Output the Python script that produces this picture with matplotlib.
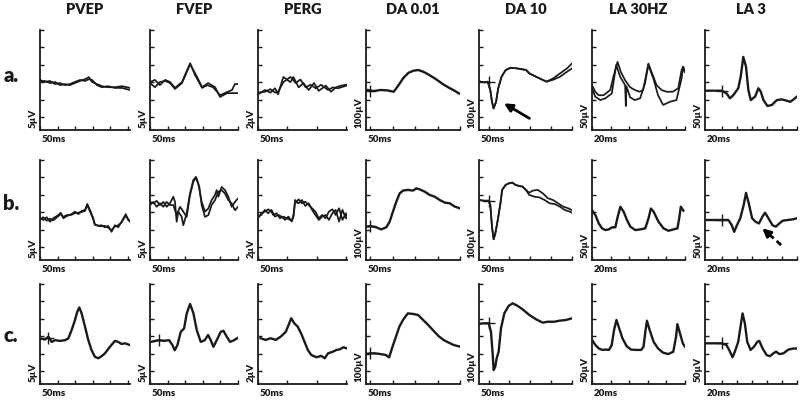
import matplotlib
matplotlib.use('Agg')
import matplotlib.pyplot as plt

plt.rcParams['font.family'] = ['Lato', 'DejaVu Sans']

# ---------------- chart description ----------------
columns = ['PVEP', 'FVEP', 'PERG', 'DA 0.01', 'DA 10', 'LA 30HZ', 'LA 3']
rows = ['a.', 'b.', 'c.']
y_units = [5, 5, 2, 100, 100, 50, 50]                      # µV per division
y_labels = ['5µV', '5µV', '2µV', '100µV', '100µV', '50µV', '50µV']
x_labels = ['50ms', '50ms', '50ms', '50ms', '50ms', '20ms', '20ms']
x_limits = [(0, 256), (0, 250), (0, 151), (-10, 200), (-23, 200), (0, 100), (-22, 100)]
x_ticks = [[0, 50, 100, 150, 200, 250], [0, 50, 100, 150, 200, 250], [0, 50, 100, 150],
           [0, 50, 100, 150, 200], [0, 50, 100, 150, 200],
           [0, 20, 40, 60, 80, 100], [0, 20, 40, 60, 80, 100]]

# ---------------- data: time (ms), amplitude (µV) ----------------
# row a
a_pvep_t = [0, 14, 28, 43, 57, 71, 85, 99, 114, 128, 139, 148, 162, 176, 193, 213, 233, 256]
a_pvep_v1 = [13.8, 14.1, 13.5, 13.8, 12.9, 13.2, 12.9, 13.5, 14.1, 14.6, 15.2, 13.8, 13.2, 12.6, 12.3, 12.3, 12.6, 12.1]
a_pvep_v2 = [14.4, 13.8, 14.1, 13.2, 13.5, 12.9, 13.2, 13.8, 14.4, 14.1, 14.6, 14.4, 12.9, 12.3, 12.6, 12.1, 12.1, 11.5]

a_fvep_t1 = [0, 14, 28, 43, 57, 71, 91, 114, 128, 148, 162, 179, 199, 219, 233, 241, 250]
a_fvep_v1 = [13.8, 14.4, 12.9, 14.4, 13.8, 12.1, 13.8, 19.2, 15.8, 12.1, 12.9, 12.3, 10.0, 10.9, 11.5, 13.2, 13.2]
a_fvep_t2 = [0, 14, 28, 43, 57, 71, 91, 114, 134, 148, 165, 185, 199, 219, 236, 250]
a_fvep_v2 = [13.5, 12.3, 13.8, 14.1, 13.5, 11.8, 13.5, 18.9, 15.2, 12.3, 13.5, 12.3, 9.5, 10.6, 10.6, 10.6]

a_perg_t1 = [0, 12, 21, 29, 34, 43, 55, 60, 69, 77, 86, 95, 103, 115, 124, 132, 141, 150]
a_perg_v1 = [4.1, 4.6, 4.3, 4.8, 4.1, 6.1, 5.5, 6.1, 4.9, 5.4, 4.6, 5.4, 4.5, 5.1, 4.4, 4.9, 5.1, 5.2]
a_perg_t2 = [0, 12, 21, 29, 34, 43, 55, 64, 72, 81, 89, 98, 107, 119, 127, 136, 150]
a_perg_v2 = [4.3, 4.4, 4.7, 4.3, 4.4, 5.5, 6.1, 5.4, 5.8, 4.9, 5.2, 4.8, 5.2, 4.6, 4.9, 4.8, 5.1]

a_da001_t = [-7, 7, 22, 37, 52, 63, 74, 85, 96, 107, 118, 129, 141, 152, 163, 174, 185, 198]
a_da001_v = [230, 224, 230, 228, 220, 259, 301, 329, 341, 345, 335, 320, 301, 282, 262, 245, 230, 210]

a_da10_t1 = [-20, -8, -2, 4, 8, 12, 18, 23, 31, 41, 53, 69, 90, 98, 114, 130, 139, 155, 171, 188, 200]
a_da10_v1 = [278, 274, 278, 230, 163, 124, 163, 239, 306, 345, 358, 354, 345, 325, 306, 288, 278, 297, 325, 354, 383]
a_da10_t2 = [-20, -8, -2, 4, 8, 12, 18, 23, 31, 41, 53, 69, 90, 98, 114, 130, 139, 155, 171, 188, 200]
a_da10_v2 = [278, 274, 278, 230, 163, 124, 163, 239, 306, 345, 358, 354, 345, 325, 306, 288, 278, 289, 306, 335, 354]

a_la30_t1 = [0, 3.5, 7, 12.5, 19.6, 23, 27.5, 31, 35.6, 41, 46, 51, 55, 60.6, 64, 69.4, 74.8, 80, 87, 92.7, 96.3, 98, 99.8]
a_la30_v1 = [129, 110, 100, 100, 115, 153, 196, 167, 143, 123, 115, 110, 115, 191, 167, 129, 115, 110, 110, 120, 172, 182, 167]
a_la30_t2 = [0, 3.5, 8.9, 14.3, 21.3, 26, 30.3, 35.6, 36.4, 37, 41, 46, 51.7, 57, 60.6, 66, 71, 76.5, 83.7, 90.8, 96.3, 98, 99.8]
a_la30_v2 = [120, 96, 86, 91, 105, 187, 153, 129, 69, 126, 94, 86, 91, 134, 187, 148, 100, 72, 81, 86, 148, 182, 167]

a_la3_t = [-22, 0, 6.7, 11.1, 15.5, 22.1, 25.3, 28.8, 32.4, 35.5, 38.7, 44.4, 48.8, 52, 55.5, 60.8, 66.7, 73.3, 80, 86.7, 91, 95.5, 100]
a_la3_v = [113, 113, 105, 91, 100, 120, 153, 210, 182, 115, 86, 96, 120, 110, 86, 69, 72, 86, 88, 84, 81, 88, 96]

# row b
b_pvep_t = [0, 9.4, 19, 28.4, 37.8, 52, 59, 66.3, 75.7, 90, 99.4, 109, 118.4, 128, 134.4, 142, 151.5, 156, 165.5,
            175, 184.6, 194, 203.5, 213, 222.4, 232, 244, 250.5, 255.6]
b_pvep_v1 = [12.0, 11.5, 12.3, 11.0, 12.0, 12.9, 13.6, 12.0, 12.6, 13.2, 13.9, 13.2, 14.1, 14.4, 16.1, 14.4, 12.0,
             10.3, 9.8, 10.0, 9.4, 9.8, 8.1, 10.0, 9.4, 11.0, 13.2, 11.5, 11.3]
b_pvep_v2 = [11.7, 12.3, 11.3, 11.9, 11.4, 12.6, 13.2, 12.4, 12.9, 13.0, 13.5, 13.6, 13.8, 14.1, 15.8, 14.0, 11.7,
             10.1, 9.9, 9.7, 9.8, 9.3, 8.6, 9.6, 10.0, 10.8, 12.8, 11.8, 11.0]

b_fvep_t1 = [0, 9.4, 19, 28.4, 37.8, 47.4, 56.8, 66.2, 71, 75.7, 80.4, 90, 94.6, 104.2, 113.6, 123, 130.6, 137.2,
             146.8, 156.2, 165.6, 175, 184.6, 189.4, 194.2, 203.6, 213, 222.4, 232, 241.4, 250]
b_fvep_v1 = [16.7, 16.3, 17.0, 15.8, 16.7, 15.3, 16.3, 18.2, 16.7, 11.0, 13.9, 12.4, 10.0, 13.4, 19.1, 23.0, 23.9,
             22.0, 16.7, 13.9, 14.8, 17.2, 18.7, 20.1, 18.2, 21.0, 20.1, 18.2, 15.3, 16.7, 17.7]
b_fvep_t2 = [0, 9.5, 18.9, 28.4, 37.9, 47.3, 56.8, 66.3, 75.7, 85.2, 94.7, 104.1, 113.6, 123.1, 130.7, 140.1, 146.8,
             156.2, 165.7, 175.1, 184.6, 194.1, 203.5, 213, 222.5, 231.9, 241.4, 250]
b_fvep_v2 = [15.8, 16.7, 15.3, 16.3, 15.3, 16.7, 15.8, 15.8, 12.9, 15.3, 13.9, 12.4, 18.6, 22.5, 23.7, 21.0, 15.8,
             12.4, 12.9, 15.8, 17.2, 19.6, 20.1, 19.1, 17.2, 16.3, 14.3, 15.3]

b_perg_t1 = [0, 5.7, 11.5, 17.2, 22.9, 25.8, 31.5, 37.3, 43, 48.7, 54.5, 57.3, 60.2, 63, 65.9, 68.8, 74.5, 80.2, 86,
             91.7, 97.4, 103.2, 108.9, 114.6, 120.3, 126.1, 131.8, 137.5, 143.3, 149, 151]
b_perg_v1 = [4.80, 5.37, 5.56, 5.83, 5.56, 5.18, 5.37, 4.80, 4.99, 4.80, 4.61, 4.53, 5.18, 6.90, 6.71, 6.98, 6.52,
             6.71, 6.33, 5.95, 5.56, 4.80, 5.18, 4.80, 5.56, 5.83, 5.18, 5.95, 4.61, 5.37, 4.99]
b_perg_t2 = [0, 5.7, 11.5, 17.2, 22.9, 28.7, 34.4, 40.1, 45.9, 51.6, 57.3, 60.2, 63, 68.8, 74.5, 80.2, 86, 91.7,
             97.4, 103.2, 108.9, 114.6, 120.3, 126.1, 131.8, 137.5, 143.3, 149, 151]
b_perg_v2 = [4.99, 5.18, 5.76, 5.37, 5.76, 4.99, 5.18, 4.99, 4.61, 4.99, 4.42, 4.99, 6.71, 6.52, 6.90, 6.22, 6.52,
             5.76, 5.18, 4.61, 4.99, 5.18, 4.61, 5.37, 5.76, 4.42, 5.76, 4.80, 4.80]

b_da001_t = [-9.5, 0.2, 12.9, 24.1, 35.3, 42.8, 50.2, 57.7, 65.2, 72.6, 83.8, 95.0, 102.5, 110, 121.2, 132.4, 143.6,
             154.8, 166, 177.2, 188.4, 199.6]
b_da001_v = [192, 195, 188, 176, 188, 220, 278, 335, 383, 399, 403, 399, 412, 406, 393, 374, 364, 345, 330, 326, 307, 297]

b_da10_t1 = [-22.8, -12.2, 0, 4.1, 8.1, 12.2, 16.2, 22, 28.4, 32.5, 40.6, 48.8, 56.9, 65, 73.2, 81.3, 89.4, 97.5,
             105.7, 117.9, 130.1, 142.3, 154.5, 166.7, 178.9, 191.1, 200]
b_da10_v1 = [345, 341, 341, 316, 192, 119, 153, 230, 326, 403, 431, 441, 445, 431, 426, 422, 403, 387, 399, 403, 383,
             355, 345, 326, 307, 297, 287]
b_da10_t2 = [-22.8, -12.2, 0, 4.1, 8.1, 12.2, 16.2, 22, 28.4, 32.5, 40.6, 48.8, 56.9, 65, 73.2, 81.3, 89.4, 97.5,
             109.7, 121.9, 134.1, 146.3, 158.5, 170.7, 182.9, 195.1, 200]
b_da10_v2 = [345, 341, 341, 316, 192, 119, 153, 230, 326, 403, 431, 441, 445, 431, 426, 422, 403, 374, 364, 360, 345,
             326, 322, 307, 287, 278, 272]

b_la30_t = [0.1, 3.7, 7.3, 10.8, 14.4, 18, 21.6, 25.1, 27.6, 30.5, 34, 37.6, 41.2, 46.5, 51.9, 57.3, 60.8, 63.3,
            66.2, 71.5, 76.9, 82.2, 87.6, 91.9, 94, 95.5, 98.3]
b_la30_v = [143, 129, 105, 91, 86, 88, 94, 94, 124, 153, 139, 115, 96, 86, 88, 91, 120, 148, 139, 110, 91, 84, 88,
            91, 124, 153, 142]

b_la3_t = [-19.4, -9, 0, 9, 13.5, 16.7, 20.3, 24.8, 29.3, 32.4, 36, 40.5, 45, 49.5, 54, 57.6, 62.1, 67.5, 72, 76.5,
           81, 87.8, 94.5, 100]
b_la3_v = [115, 115, 115, 115, 100, 81, 100, 120, 158, 193, 163, 120, 110, 105, 124, 136, 120, 100, 96, 105, 113,
           115, 117, 120]

# row c
c_pvep_t = [0, 14.2, 23.7, 33.2, 42.7, 56.9, 71.1, 80.5, 90, 99.5, 106.1, 111.8, 118.4, 127.9, 137.4, 146.8, 156.3,
            165.8, 175.2, 184.7, 198.9, 213.1, 222.6, 232.1, 241.5, 255.7]
c_pvep_v = [13.1, 12.8, 13.6, 12.1, 12.6, 12.4, 12.6, 13.1, 15.5, 18.4, 20.8, 22.0, 20.3, 16.5, 12.6, 9.7, 7.8, 7.4,
            8.0, 8.8, 10.7, 12.4, 12.1, 11.5, 11.7, 11.2]

c_fvep_t = [2.2, 16.4, 25.8, 40, 54.2, 63.7, 70.3, 77.9, 87.4, 96.9, 104.4, 113.9, 123.4, 132.8, 144.2, 155.6, 165,
            172.6, 180.2, 189.6, 201, 208.6, 218, 227.5, 238.9, 250]
c_fvep_v = [12.1, 12.4, 12.6, 12.4, 12.6, 11.2, 9.7, 11.2, 15.0, 16.0, 20.3, 23.0, 20.3, 15.5, 12.1, 12.6, 14.1, 12.6,
            10.7, 12.6, 15.0, 15.3, 13.6, 12.1, 12.6, 13.3]

c_perg_t = [4.3, 12.9, 21.5, 30.1, 38.7, 47.3, 51.9, 56.4, 61.6, 67.3, 73.1, 78.8, 84.5, 90.3, 98.9, 107.5, 113.2,
            118.9, 127.5, 133.2, 139, 144.7, 150.4]
c_perg_v = [5.26, 5.07, 5.26, 5.07, 5.45, 6.02, 6.79, 7.56, 6.98, 6.60, 5.83, 4.88, 3.92, 3.34, 3.08, 3.23, 2.96,
            3.53, 3.73, 3.92, 3.99, 4.22, 4.11]

c_da001_t = [-10, -0.1, 11.3, 22.7, 34.1, 41.7, 49.3, 56.9, 64.5, 73.6, 83.5, 94.9, 106.3, 117.7, 129.1, 140.5,
             151.9, 163.3, 174.7, 186.1, 199.8]
c_da001_v = [172, 176, 176, 172, 167, 153, 215, 272, 330, 372, 406, 403, 397, 368, 339, 307, 276, 253, 238, 224, 215]

c_da10_t = [-23, -14.3, 0.1, 5.7, 9.7, 12.1, 16.1, 19.3, 24.1, 29.7, 37.7, 48.1, 57.7, 69.7, 81.7, 97.7, 113.7,
            129.7, 141.7, 157.7, 169.7, 185.7, 200]
c_da10_v = [345, 349, 349, 301, 176, 80, 100, 148, 186, 320, 406, 449, 464, 449, 429, 397, 372, 353, 358, 358, 364,
            368, 378]

c_la30_t = [0.8, 3.7, 7.4, 11, 14.6, 18.3, 21.2, 23.7, 26.3, 29.2, 32.8, 37.2, 41.9, 47.4, 52.9, 55.4, 57.6, 59.1,
            62, 66.3, 71.1, 76.5, 82, 87.4, 90.4, 91.8, 94.7, 97.6, 100]
c_la30_v = [124, 112, 102, 98, 99, 98, 112, 155, 184, 160, 131, 109, 99, 98, 98, 107, 155, 182, 155, 121, 102, 90,
            86, 93, 136, 172, 145, 117, 107]

c_la3_t = [-21, -11.3, -0.2, 6.5, 10, 14.5, 17.6, 22, 25.1, 27.8, 30.9, 34, 38.5, 42.9, 47.3, 50, 54.4, 59.8, 64.2,
           68.6, 72.2, 76.6, 82, 88.6, 95.3, 100]
c_la3_v = [117, 117, 117, 112, 98, 77, 93, 121, 165, 203, 174, 121, 98, 107, 121, 124, 102, 83, 80, 88, 93, 86, 88,
           99, 102, 102]

# stimulus-onset markers (row, column, time ms, amplitude µV)
stim_rows = [0, 0, 0, 1, 1, 1, 2, 2, 2, 2, 2]
stim_cols = [3, 4, 6, 3, 4, 6, 0, 1, 3, 4, 6]
stim_t = [0, 0, 0, 0, 0, 0, 24, 26, 0, 0, 0]
stim_v = [224, 278, 113, 195, 341, 115, 13.1, 12.6, 176, 349, 117]

# arrows: (tail time, tail µV) -> (head time, head µV)
arrow_a_da10 = ((98, 67), (37, 153))
arrow_b_la3 = ((79, 43), (54, 91))

traces = {
    (0, 0): [(a_pvep_t, a_pvep_v1), (a_pvep_t, a_pvep_v2)],
    (0, 1): [(a_fvep_t1, a_fvep_v1), (a_fvep_t2, a_fvep_v2)],
    (0, 2): [(a_perg_t1, a_perg_v1), (a_perg_t2, a_perg_v2)],
    (0, 3): [(a_da001_t, a_da001_v)],
    (0, 4): [(a_da10_t1, a_da10_v1), (a_da10_t2, a_da10_v2)],
    (0, 5): [(a_la30_t1, a_la30_v1), (a_la30_t2, a_la30_v2)],
    (0, 6): [(a_la3_t, a_la3_v)],
    (1, 0): [(b_pvep_t, b_pvep_v1), (b_pvep_t, b_pvep_v2)],
    (1, 1): [(b_fvep_t1, b_fvep_v1), (b_fvep_t2, b_fvep_v2)],
    (1, 2): [(b_perg_t1, b_perg_v1), (b_perg_t2, b_perg_v2)],
    (1, 3): [(b_da001_t, b_da001_v)],
    (1, 4): [(b_da10_t1, b_da10_v1), (b_da10_t2, b_da10_v2)],
    (1, 5): [(b_la30_t, b_la30_v)],
    (1, 6): [(b_la3_t, b_la3_v)],
    (2, 0): [(c_pvep_t, c_pvep_v)],
    (2, 1): [(c_fvep_t, c_fvep_v)],
    (2, 2): [(c_perg_t, c_perg_v)],
    (2, 3): [(c_da001_t, c_da001_v)],
    (2, 4): [(c_da10_t, c_da10_v)],
    (2, 5): [(c_la30_t, c_la30_v)],
    (2, 6): [(c_la3_t, c_la3_v)],
}

# ---------------- layout (pixels) ----------------
W, H = 800, 409
col_px = [(40, 130), (150, 238), (258, 347), (366, 460), (479, 572), (592, 685), (705, 797)]
row_bottom_px = [130, 260, 384]
panel_h = 100
ink = '#1a1a1a'
label_weight = 'heavy'

fig = plt.figure(figsize=(W / 100, H / 100), dpi=100)
axes = {}
for r in range(3):
    for c in range(7):
        l, rr = col_px[c]
        b = row_bottom_px[r]
        ax = fig.add_axes([l / W, 1 - b / H, (rr - l) / W, panel_h / H])
        axes[(r, c)] = ax
        u = y_units[c]
        ax.set_xlim(*x_limits[c])
        ax.set_ylim(0, 5.75 * u)
        ax.set_xticks(x_ticks[c])
        ax.set_yticks([u * (5.75 - k) for k in range(6)])
        ax.tick_params(direction='in', length=3, width=1, color=ink,
                       labelleft=False, labelbottom=False)
        for s in ('top', 'right'):
            ax.spines[s].set_visible(False)
        for s in ('left', 'bottom'):
            ax.spines[s].set_linewidth(1.3)
            ax.spines[s].set_color(ink)
        ax.patch.set_alpha(0)
        lw = 1.7 if len(traces[(r, c)]) == 1 else 1.25
        for t, v in traces[(r, c)]:
            ax.plot(t, v, color=ink, lw=lw, solid_joinstyle='round')
        ax.annotate(y_labels[c], xy=(0, 0), xycoords='axes fraction', xytext=(-7, 2),
                    textcoords='offset pixels', rotation=90, ha='center', va='bottom',
                    fontsize=7, fontweight=label_weight, color=ink)
        ax.annotate(x_labels[c], xy=(0, 0), xycoords='axes fraction', xytext=(2, -10),
                    textcoords='offset pixels', ha='left', va='center',
                    fontsize=7, fontweight=label_weight, color=ink)

for r, c, t, v in zip(stim_rows, stim_cols, stim_t, stim_v):
    axes[(r, c)].plot([t], [v], marker='+', ms=8, mew=1.0, color=ink)

# arrows
(tx, ty), (hx, hy) = arrow_a_da10
axes[(0, 4)].annotate('', xy=(hx, hy), xytext=(tx, ty),
                      arrowprops=dict(arrowstyle='-|>', lw=2, color='black', mutation_scale=12,
                                      shrinkA=0, shrinkB=0))
(tx, ty), (hx, hy) = arrow_b_la3
ax_b = axes[(1, 6)]
ax_b.plot([tx, hx + (tx - hx) * 0.35], [ty, hy + (ty - hy) * 0.35], color='black', lw=2, ls=(0, (2.2, 1.4)))
ax_b.annotate('', xy=(hx, hy), xytext=(hx + (tx - hx) * 0.4, hy + (ty - hy) * 0.4),
              arrowprops=dict(arrowstyle='-|>', lw=2, color='black', mutation_scale=12,
                              shrinkA=0, shrinkB=0))

# column titles and row labels
for c, name in enumerate(columns):
    l, rr = col_px[c]
    fig.text((l + rr) / 2 / W, 1 - 9 / H, name, ha='center', va='center',
             fontsize=10.5, fontweight=label_weight, color=ink)
row_label_y = [75, 203, 335]
for r, lab in enumerate(rows):
    fig.text(11 / W, 1 - row_label_y[r] / H, lab, ha='center', va='center',
             fontsize=14.5, fontweight=label_weight, color=ink)

fig.savefig('out.png', dpi=100)
